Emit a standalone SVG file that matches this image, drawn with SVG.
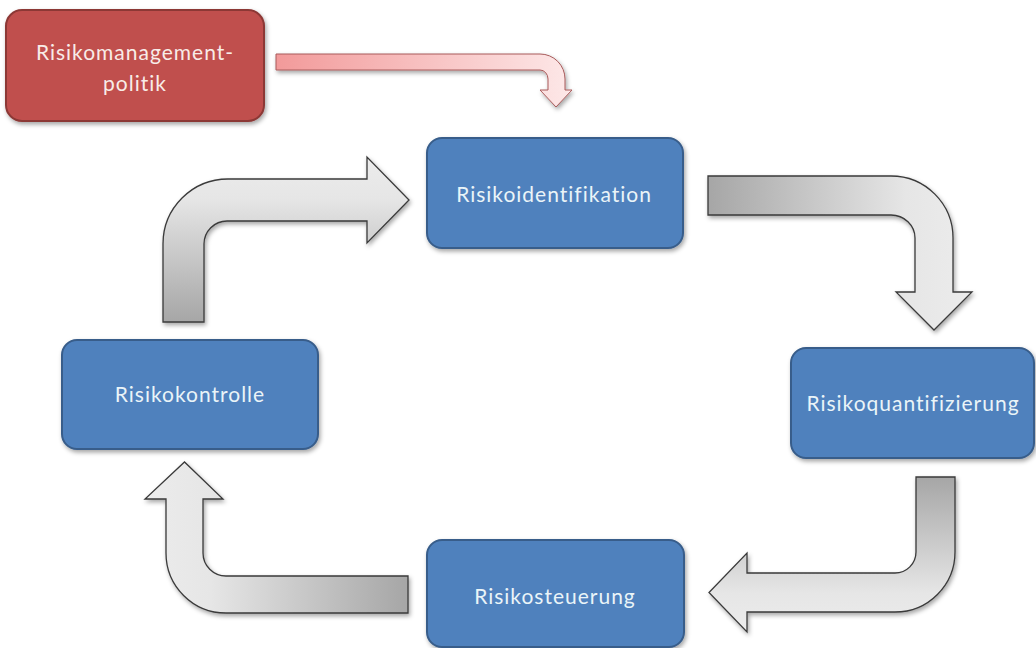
<svg xmlns="http://www.w3.org/2000/svg" width="1036" height="648" viewBox="0 0 1036 648">
<style>
.box{stroke-width:2}
.blue{fill:#4f81bd;stroke:#385d8a}
.red{fill:#c0504d;stroke:#8c3836}
.lbl{font-family:Lato,"Open Sans","Liberation Sans",sans-serif;font-size:21px;letter-spacing:1px;fill:#eaf4f8;text-anchor:middle}
.rlbl{fill:#f8ece8}
.arrow{stroke:#3a3a3a;stroke-width:1.3;stroke-linejoin:miter}
</style>
<defs>
<filter id="sh" x="-10%" y="-10%" width="125%" height="130%">
<feDropShadow dx="1.5" dy="2.5" stdDeviation="2" flood-color="#000" flood-opacity="0.35"/>
</filter>
<linearGradient id="gA1" x1="0" y1="0" x2="1" y2="0"><stop offset="0" stop-color="#a6a6a6"/><stop offset="0.75" stop-color="#e6e6e6"/><stop offset="1" stop-color="#ececec"/></linearGradient>
<linearGradient id="gA2" x1="0" y1="0" x2="0" y2="1"><stop offset="0" stop-color="#a6a6a6"/><stop offset="0.75" stop-color="#e6e6e6"/><stop offset="1" stop-color="#ececec"/></linearGradient>
<linearGradient id="gA3" x1="1" y1="0" x2="0" y2="0"><stop offset="0" stop-color="#a6a6a6"/><stop offset="0.75" stop-color="#e6e6e6"/><stop offset="1" stop-color="#ececec"/></linearGradient>
<linearGradient id="gA4" x1="0" y1="1" x2="0" y2="0"><stop offset="0" stop-color="#a6a6a6"/><stop offset="0.75" stop-color="#e6e6e6"/><stop offset="1" stop-color="#ececec"/></linearGradient>
<linearGradient id="gP" x1="0" y1="0" x2="1" y2="0"><stop offset="0" stop-color="#f29a9a"/><stop offset="1" stop-color="#fde8e8"/></linearGradient>
</defs>
<rect width="1036" height="648" fill="#ffffff"/>
<g id="connectors">
<path id="c-policy" d="M276,54 L540,54 A25,25 0 0 1 565,79 L565,90 L572,90 L556,107 L540,90 L548,90 L548,79 A8,9 0 0 0 540,70 L276,70 Z" fill="url(#gP)" stroke="#a85a5a" stroke-width="1" filter="url(#sh)"/>
<path id="c-ident-quant" class="arrow" d="M708,176 L891,176 A62,62 0 0 1 953,238 L953,292 L972,292 L934,330 L896,292 L915,292 L915,238 A24,23 0 0 0 891,215 L708,215 Z" fill="url(#gA1)" filter="url(#sh)"/>
<path id="c-quant-steu" class="arrow" d="M916,477 L955,477 L955,552 A60,60 0 0 1 895,612 L747,612 L747,632 L709,592.5 L747,553 L747,573 L895,573 A21,21 0 0 0 916,552 Z" fill="url(#gA2)" filter="url(#sh)"/>
<path id="c-steu-kontr" class="arrow" d="M408,576 L408,613 L226,613 A60,60 0 0 1 166,553 L166,499 L145,499 L184.5,462 L223,499 L203,499 L203,553 A23,23 0 0 0 226,576 Z" fill="url(#gA3)" filter="url(#sh)"/>
<path id="c-kontr-ident" class="arrow" d="M163,322 L163,244 A65,65 0 0 1 228,179 L367,179 L367,157 L409,200 L367,243 L367,221 L227,221 A23,23 0 0 0 204,244 L204,322 Z" fill="url(#gA4)" filter="url(#sh)"/>
</g>
<g id="n-policy">
<rect class="box red" x="6" y="10" width="258" height="111" rx="16" filter="url(#sh)"/>
<text class="lbl rlbl" x="135" y="60">Risikomanagement-</text>
<text class="lbl rlbl" x="135" y="91">politik</text>
</g>
<g id="n-ident">
<rect class="box blue" x="427" y="138" width="256" height="110" rx="15" filter="url(#sh)"/>
<text class="lbl" x="554" y="202">Risikoidentifikation</text>
</g>
<g id="n-quant">
<rect class="box blue" x="791" y="348" width="243" height="110" rx="15" filter="url(#sh)"/>
<text class="lbl" x="913" y="411">Risikoquantifizierung</text>
</g>
<g id="n-steu">
<rect class="box blue" x="427" y="540" width="257" height="107" rx="15" filter="url(#sh)"/>
<text class="lbl" x="555" y="604">Risikosteuerung</text>
</g>
<g id="n-kontr">
<rect class="box blue" x="62" y="340" width="256" height="109" rx="15" filter="url(#sh)"/>
<text class="lbl" x="190" y="402">Risikokontrolle</text>
</g>
</svg>
